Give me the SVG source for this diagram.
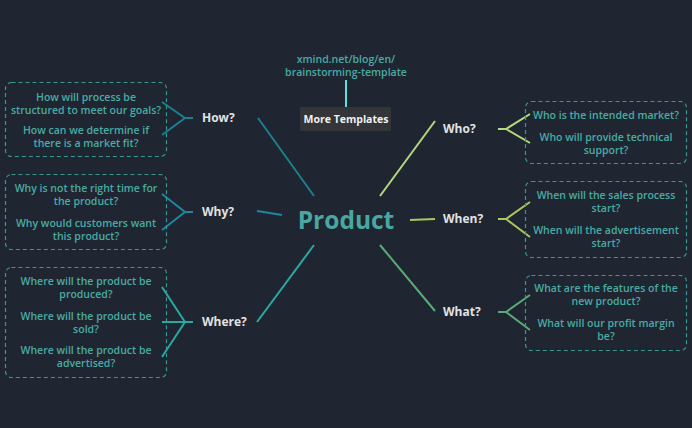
<svg xmlns="http://www.w3.org/2000/svg" width="692" height="428" viewBox="0 0 692 428">
<style>
.bg{fill:#1f2632}
.box{fill:none;stroke:#3a9690;stroke-width:1.2;stroke-dasharray:4 3}
.t{font-family:"Open Sans","Liberation Sans",sans-serif;font-weight:600;font-size:10.5px;fill:#4aaba3;text-anchor:middle}
.lbl{font-family:"Open Sans","Liberation Sans",sans-serif;font-weight:700;font-size:12px;fill:#e2e2e2}
.c{fill:none;stroke-width:2;stroke-linecap:butt}
</style>
<rect class="bg" x="0" y="0" width="692" height="428"/>
<g id="connectors">
<line class="c" x1="258" y1="118" x2="314" y2="196" stroke="#1d7f8e"/>
<line class="c" x1="257" y1="211" x2="282" y2="215" stroke="#1f86a0"/>
<line class="c" x1="257" y1="322" x2="314" y2="245" stroke="#2aa9a3"/>
<line class="c" x1="380" y1="196" x2="435" y2="121" stroke="#b5d97e"/>
<line class="c" x1="410" y1="220" x2="435" y2="219" stroke="#a8c860"/>
<line class="c" x1="380" y1="245" x2="435" y2="311" stroke="#5aaa77"/>
<path class="c" stroke="#1d7f8e" stroke-width="1.3" d="M193 118 H185 L162 102 M185 118 L162 135"/>
<path class="c" stroke="#1f86a0" stroke-width="1.3" d="M193 212 H185 L162 194 M185 212 L162 230"/>
<path class="c" stroke="#2aa9a3" stroke-width="1.3" d="M193 322 H185 L162 287 M185 322 H162 M185 322 L162 357"/>
<path class="c" stroke="#b5d97e" stroke-width="1.3" d="M498 129 H506 L530 114 M506 129 L530 143"/>
<path class="c" stroke="#a8c860" stroke-width="1.3" d="M498 219 H506 L530 202 M506 219 L530 237"/>
<path class="c" stroke="#5aaa77" stroke-width="1.3" d="M498 312 H506 L530 295 M506 312 L530 330"/>
<line class="c" x1="346" y1="80" x2="346" y2="107" stroke="#5ce0e0"/>
</g>
<g id="product">
<text x="346" y="229" font-family="'Open Sans','Liberation Sans',sans-serif" font-weight="700" font-size="24.5" fill="#4aa7a0" text-anchor="middle">Product</text>
</g>
<g id="link">
<text class="t" x="346" y="63">xmind.net/blog/en/</text>
<text class="t" x="346" y="76">brainstorming-template</text>
</g>
<g id="more-templates">
<rect x="300" y="107" width="91" height="24" fill="#333538"/>
<text x="346" y="123" font-family="'Open Sans','Liberation Sans',sans-serif" font-weight="700" font-size="10.5" fill="#f0f0f0" text-anchor="middle">More Templates</text>
</g>
<g id="how"><text class="lbl" x="202" y="122">How?</text></g>
<g id="why"><text class="lbl" x="202" y="216">Why?</text></g>
<g id="where"><text class="lbl" x="202" y="326">Where?</text></g>
<g id="who"><text class="lbl" x="443" y="133">Who?</text></g>
<g id="when"><text class="lbl" x="443" y="223">When?</text></g>
<g id="what"><text class="lbl" x="443" y="316">What?</text></g>
<g id="how-box">
<rect class="box" x="5.5" y="82.5" width="161" height="74" rx="6"/>
<text class="t" x="86" y="101">How will process be</text>
<text class="t" x="86" y="114">structured to meet our goals?</text>
<text class="t" x="86" y="134">How can we determine if</text>
<text class="t" x="86" y="147">there is a market fit?</text>
</g>
<g id="why-box">
<rect class="box" x="5.5" y="174.5" width="161" height="75" rx="6"/>
<text class="t" x="86" y="192">Why is not the right time for</text>
<text class="t" x="86" y="205">the product?</text>
<text class="t" x="86" y="227">Why would customers want</text>
<text class="t" x="86" y="240">this product?</text>
</g>
<g id="where-box">
<rect class="box" x="5.5" y="267.5" width="161" height="110" rx="6"/>
<text class="t" x="86" y="285">Where will the product be</text>
<text class="t" x="86" y="298">produced?</text>
<text class="t" x="86" y="320">Where will the product be</text>
<text class="t" x="86" y="333">sold?</text>
<text class="t" x="86" y="354">Where will the product be</text>
<text class="t" x="86" y="367">advertised?</text>
</g>
<g id="who-box">
<rect class="box" x="525.5" y="101.5" width="161" height="62" rx="6"/>
<text class="t" x="606" y="119">Who is the intended market?</text>
<text class="t" x="606" y="141">Who will provide technical</text>
<text class="t" x="606" y="154">support?</text>
</g>
<g id="when-box">
<rect class="box" x="525.5" y="181.5" width="161" height="76" rx="6"/>
<text class="t" x="606" y="199">When will the sales process</text>
<text class="t" x="606" y="212">start?</text>
<text class="t" x="606" y="234">When will the advertisement</text>
<text class="t" x="606" y="247">start?</text>
</g>
<g id="what-box">
<rect class="box" x="525.5" y="275.5" width="161" height="75" rx="6"/>
<text class="t" x="606" y="292">What are the features of the</text>
<text class="t" x="606" y="305">new product?</text>
<text class="t" x="606" y="327">What will our profit margin</text>
<text class="t" x="606" y="340">be?</text>
</g>
</svg>
